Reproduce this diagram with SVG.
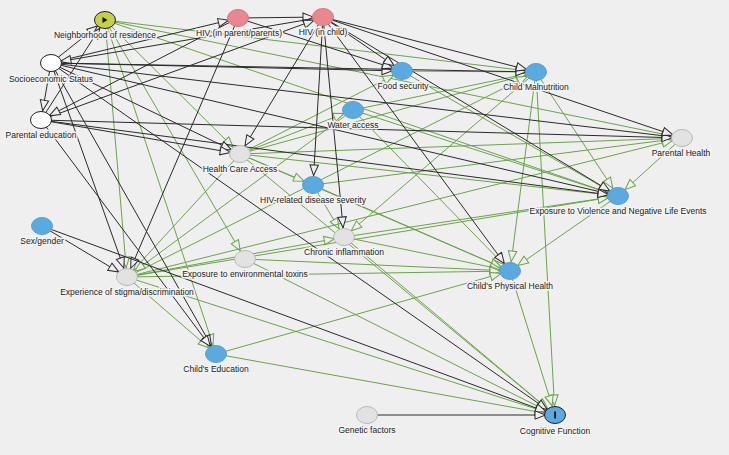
<svg xmlns="http://www.w3.org/2000/svg" width="729" height="455" viewBox="0 0 729 455">
<style>
.b{stroke:#2a2a2a;stroke-width:1;fill:none;marker-end:url(#ab)}
.g{stroke:#6aa448;stroke-width:1;fill:none;marker-end:url(#ag)}
.lbl{font-family:"Liberation Sans",Arial,sans-serif;font-size:8.5px;fill:#1a1a1a;text-anchor:middle;paint-order:stroke;stroke:#f4f4f4;stroke-width:3px;stroke-linejoin:round}
.gray{fill:#e2e2e2;stroke:#b9b9b9;stroke-width:1}
.blue{fill:#5aaae0;stroke:#5b9fd0;stroke-width:1}
.pink{fill:#e8878e;stroke:#d7787f;stroke-width:1}
.white{fill:#ffffff;stroke:#222;stroke-width:1}
</style>
<defs>
<marker id="ab" markerUnits="userSpaceOnUse" viewBox="-24 -6 26 12" refX="0" refY="0" markerWidth="26" markerHeight="12" orient="auto">
<path d="M-9.5,0 L-20,-4.2 L-20,4.2 Z" fill="#efefef" stroke="#2a2a2a" stroke-width="1"/>
</marker>
<marker id="ag" markerUnits="userSpaceOnUse" viewBox="-24 -6 26 12" refX="0" refY="0" markerWidth="26" markerHeight="12" orient="auto">
<path d="M-9.5,0 L-20,-4.2 L-20,4.2 Z" fill="#efefef" stroke="#6aa448" stroke-width="1"/>
</marker>
</defs>
<rect x="0" y="0" width="729" height="455" fill="#efefef"/>
<g id="connectors">
<line class="g" x1="105" y1="20" x2="536" y2="72"/>
<line class="g" x1="105" y1="20" x2="682" y2="138"/>
<line class="g" x1="105" y1="20" x2="618" y2="196"/>
<line class="g" x1="105" y1="20" x2="240" y2="154"/>
<line class="g" x1="105" y1="20" x2="127" y2="277"/>
<line class="g" x1="105" y1="20" x2="245" y2="259"/>
<line class="g" x1="105" y1="20" x2="216" y2="354"/>
<line class="g" x1="240" y1="154" x2="353" y2="110"/>
<line class="g" x1="240" y1="154" x2="402" y2="71"/>
<line class="g" x1="240" y1="154" x2="536" y2="72"/>
<line class="g" x1="240" y1="154" x2="682" y2="138"/>
<line class="g" x1="240" y1="154" x2="618" y2="196"/>
<line class="g" x1="240" y1="154" x2="510" y2="271"/>
<line class="g" x1="240" y1="154" x2="555" y2="415"/>
<line class="g" x1="240" y1="154" x2="313" y2="185"/>
<line class="g" x1="240" y1="154" x2="127" y2="277"/>
<line class="g" x1="402" y1="71" x2="536" y2="72"/>
<line class="g" x1="402" y1="71" x2="618" y2="196"/>
<line class="g" x1="353" y1="110" x2="536" y2="72"/>
<line class="g" x1="353" y1="110" x2="618" y2="196"/>
<line class="g" x1="353" y1="110" x2="510" y2="271"/>
<line class="g" x1="353" y1="110" x2="127" y2="277"/>
<line class="g" x1="313" y1="185" x2="344" y2="237"/>
<line class="g" x1="313" y1="185" x2="510" y2="271"/>
<line class="g" x1="313" y1="185" x2="682" y2="138"/>
<line class="g" x1="536" y1="72" x2="344" y2="237"/>
<line class="g" x1="536" y1="72" x2="510" y2="271"/>
<line class="g" x1="536" y1="72" x2="555" y2="415"/>
<line class="g" x1="536" y1="72" x2="618" y2="196"/>
<line class="g" x1="682" y1="138" x2="618" y2="196"/>
<line class="g" x1="618" y1="196" x2="510" y2="271"/>
<line class="g" x1="344" y1="237" x2="510" y2="271"/>
<line class="g" x1="344" y1="237" x2="555" y2="415"/>
<line class="g" x1="344" y1="237" x2="618" y2="196"/>
<line class="g" x1="245" y1="259" x2="510" y2="271"/>
<line class="g" x1="245" y1="259" x2="555" y2="415"/>
<line class="g" x1="127" y1="277" x2="344" y2="237"/>
<line class="g" x1="127" y1="277" x2="510" y2="271"/>
<line class="g" x1="127" y1="277" x2="618" y2="196"/>
<line class="g" x1="127" y1="277" x2="682" y2="138"/>
<line class="g" x1="127" y1="277" x2="216" y2="354"/>
<line class="g" x1="127" y1="277" x2="555" y2="415"/>
<line class="g" x1="127" y1="277" x2="536" y2="72"/>
<line class="g" x1="216" y1="354" x2="510" y2="271"/>
<line class="g" x1="216" y1="354" x2="555" y2="415"/>
<line class="g" x1="510" y1="271" x2="555" y2="415"/>
<line class="b" x1="51" y1="63" x2="105" y2="20"/>
<line class="b" x1="41" y1="120" x2="105" y2="20"/>
<line class="b" x1="51" y1="63" x2="238" y2="18"/>
<line class="b" x1="238" y1="18" x2="323" y2="17"/>
<line class="b" x1="41" y1="120" x2="323" y2="17"/>
<line class="b" x1="323" y1="17" x2="51" y2="63"/>
<line class="b" x1="51" y1="63" x2="41" y2="120"/>
<line class="b" x1="238" y1="18" x2="41" y2="120"/>
<line class="b" x1="51" y1="63" x2="402" y2="71"/>
<line class="b" x1="238" y1="18" x2="402" y2="71"/>
<line class="b" x1="323" y1="17" x2="402" y2="71"/>
<line class="b" x1="51" y1="63" x2="536" y2="72"/>
<line class="b" x1="323" y1="17" x2="536" y2="72"/>
<line class="b" x1="51" y1="63" x2="682" y2="138"/>
<line class="b" x1="41" y1="120" x2="682" y2="138"/>
<line class="b" x1="323" y1="17" x2="682" y2="138"/>
<line class="b" x1="51" y1="63" x2="618" y2="196"/>
<line class="b" x1="323" y1="17" x2="618" y2="196"/>
<line class="b" x1="41" y1="120" x2="618" y2="196"/>
<line class="b" x1="51" y1="63" x2="240" y2="154"/>
<line class="b" x1="41" y1="120" x2="240" y2="154"/>
<line class="b" x1="323" y1="17" x2="240" y2="154"/>
<line class="b" x1="323" y1="17" x2="313" y2="185"/>
<line class="b" x1="323" y1="17" x2="344" y2="237"/>
<line class="b" x1="323" y1="17" x2="510" y2="271"/>
<line class="b" x1="51" y1="63" x2="127" y2="277"/>
<line class="b" x1="238" y1="18" x2="127" y2="277"/>
<line class="b" x1="42" y1="226" x2="127" y2="277"/>
<line class="b" x1="51" y1="63" x2="216" y2="354"/>
<line class="b" x1="41" y1="120" x2="216" y2="354"/>
<line class="b" x1="51" y1="63" x2="555" y2="415"/>
<line class="b" x1="42" y1="226" x2="555" y2="415"/>
<line class="b" x1="367" y1="415" x2="555" y2="415"/>
</g>
<g id="neighborhood">
<ellipse cx="105" cy="20" rx="10.5" ry="8.5" fill="#c5cf48" stroke="#222" stroke-width="1"/>
<path d="M102.5,17 L107.5,20 L102.5,23 Z" fill="#111"/>
<text class="lbl" x="105" y="38">Neighborhood of residence</text>
</g>
<g id="hiv-parent">
<ellipse class="pink" cx="238" cy="18" rx="10.5" ry="8.5"/>
<text class="lbl" x="239" y="36">HIV (in parent/parents)</text>
</g>
<g id="hiv-child">
<ellipse class="pink" cx="323" cy="17" rx="10.5" ry="8.5"/>
<text class="lbl" x="323" y="35">HIV (in child)</text>
</g>
<g id="ses">
<ellipse class="white" cx="51" cy="63" rx="10.5" ry="8.5"/>
<text class="lbl" x="51" y="82">Socioeconomic Status</text>
</g>
<g id="parental-education">
<ellipse class="white" cx="41" cy="120" rx="10.5" ry="8.5"/>
<text class="lbl" x="41" y="138">Parental education</text>
</g>
<g id="food-security">
<ellipse class="blue" cx="402" cy="71" rx="10.5" ry="8.5"/>
<text class="lbl" x="403" y="89">Food security</text>
</g>
<g id="child-malnutrition">
<ellipse class="blue" cx="536" cy="72" rx="10.5" ry="8.5"/>
<text class="lbl" x="536" y="90">Child Malnutrition</text>
</g>
<g id="water-access">
<ellipse class="blue" cx="353" cy="110" rx="10.5" ry="8.5"/>
<text class="lbl" x="353" y="128">Water access</text>
</g>
<g id="parental-health">
<ellipse class="gray" cx="682" cy="138" rx="10.5" ry="8.5"/>
<text class="lbl" x="681" y="156">Parental Health</text>
</g>
<g id="health-care-access">
<ellipse class="gray" cx="240" cy="154" rx="10.5" ry="8.5"/>
<text class="lbl" x="240" y="172">Health Care Access</text>
</g>
<g id="hiv-severity">
<ellipse class="blue" cx="313" cy="185" rx="10.5" ry="8.5"/>
<text class="lbl" x="313" y="203">HIV-related disease severity</text>
</g>
<g id="violence">
<ellipse class="blue" cx="618" cy="196" rx="10.5" ry="8.5"/>
<text class="lbl" x="618" y="214">Exposure to Violence and Negative Life Events</text>
</g>
<g id="sex-gender">
<ellipse class="blue" cx="42" cy="226" rx="10.5" ry="8.5"/>
<text class="lbl" x="42" y="244">Sex/gender</text>
</g>
<g id="chronic-inflammation">
<ellipse class="gray" cx="344" cy="237" rx="10.5" ry="8.5"/>
<text class="lbl" x="344" y="255">Chronic inflammation</text>
</g>
<g id="env-toxins">
<ellipse class="gray" cx="245" cy="259" rx="10.5" ry="8.5"/>
<text class="lbl" x="245" y="277">Exposure to environmental toxins</text>
</g>
<g id="stigma">
<ellipse class="gray" cx="127" cy="277" rx="10.5" ry="8.5"/>
<text class="lbl" x="127" y="295">Experience of stigma/discrimination</text>
</g>
<g id="physical-health">
<ellipse class="blue" cx="510" cy="271" rx="10.5" ry="8.5"/>
<text class="lbl" x="510" y="289">Child's Physical Health</text>
</g>
<g id="education">
<ellipse class="blue" cx="216" cy="354" rx="10.5" ry="8.5"/>
<text class="lbl" x="216" y="372">Child's Education</text>
</g>
<g id="genetic">
<ellipse class="gray" cx="367" cy="415" rx="10.5" ry="8.5"/>
<text class="lbl" x="367" y="433">Genetic factors</text>
</g>
<g id="cognitive">
<ellipse cx="555" cy="415" rx="10.5" ry="8.5" fill="#5aaae0" stroke="#222" stroke-width="1"/>
<rect x="554.2" y="411.5" width="1.8" height="7" fill="#111"/>
<text class="lbl" x="555" y="434">Cognitive Function</text>
</g>
</svg>
